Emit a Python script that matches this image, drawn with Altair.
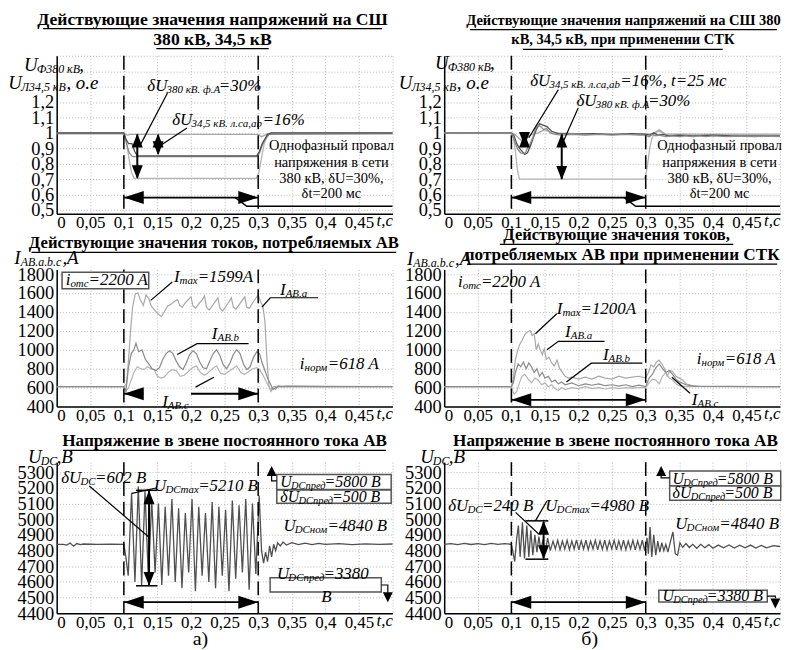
import altair as alt
import pandas as pd

FONT = "Liberation Serif"
W = 338
HEIGHTS = [159, 138, 152]
XDOM = [0, 0.5]
YDOMS = [[0.475, 1.5], [400, 1850], [4400, 5365]]
XTICKS = [0, 0.05, 0.1, 0.15, 0.2, 0.25, 0.3, 0.35, 0.4, 0.45, 0.5]
YTICKS = [[0.5, 0.6, 0.7, 0.8, 0.9, 1.0, 1.1, 1.2, 1.3, 1.4, 1.5],
          [400, 600, 800, 1000, 1200, 1400, 1600, 1800],
          [4400, 4500, 4600, 4700, 4800, 4900, 5000, 5100, 5200, 5300]]
FAULT = [0.1, 0.3]

# ---------------- series (t, value) ----------------
P1_UA380 = [(0, 1.0), (0.1, 1.0), (0.103, 0.96), (0.107, 0.85), (0.111, 0.75), (0.115, 0.705), (0.297, 0.705),
            (0.301, 0.74), (0.305, 0.84), (0.309, 0.93), (0.313, 0.98), (0.318, 1.0), (0.5, 1.0)]
P1_UCA = [(0, 1.0), (0.1, 1.0), (0.103, 0.96), (0.107, 0.93), (0.112, 0.93), (0.116, 0.88), (0.12, 0.85),
          (0.298, 0.85), (0.302, 0.88), (0.306, 0.93), (0.31, 0.96), (0.314, 0.99), (0.32, 1.0), (0.5, 1.0)]
P1_UAB = [(0, 0.995), (0.1, 0.995), (0.104, 0.93), (0.108, 0.87), (0.113, 0.845), (0.118, 0.845), (0.298, 0.845),
          (0.302, 0.87), (0.306, 0.92), (0.31, 0.955), (0.316, 0.99), (0.5, 0.995)]
P1_UBC = [(0, 0.995), (0.1, 0.995), (0.105, 0.985), (0.11, 0.99), (0.3, 0.99), (0.305, 0.975), (0.31, 0.985),
          (0.315, 0.995), (0.5, 0.995)]

P2_UA380 = [(0, 1.0), (0.1, 1.0), (0.103, 0.97), (0.106, 0.88), (0.109, 0.76), (0.112, 0.70), (0.297, 0.70),
            (0.3, 0.72), (0.303, 0.8), (0.306, 0.9), (0.309, 0.96), (0.313, 1.0), (0.32, 1.01), (0.33, 0.99),
            (0.5, 0.99)]
P2_UAB = [(0, 1.0), (0.1, 1.0), (0.103, 0.97), (0.106, 0.93), (0.11, 0.89), (0.114, 0.87), (0.118, 0.865),
          (0.121, 0.87), (0.124, 0.9), (0.128, 0.93), (0.132, 0.97), (0.136, 1.03), (0.14, 1.05), (0.144, 1.04),
          (0.148, 1.02), (0.152, 1.03), (0.158, 1.0), (0.165, 0.99), (0.175, 0.985), (0.19, 0.99), (0.21, 0.985),
          (0.23, 0.99), (0.25, 0.985), (0.27, 0.99), (0.29, 0.985), (0.3, 0.985), (0.305, 0.975), (0.31, 0.99),
          (0.315, 0.98), (0.32, 0.985), (0.33, 0.975), (0.34, 0.98), (0.35, 0.975), (0.36, 0.98), (0.37, 0.975),
          (0.38, 0.98), (0.39, 0.975), (0.4, 0.98), (0.42, 0.975), (0.44, 0.978), (0.46, 0.975), (0.48, 0.978),
          (0.5, 0.975)]
P2_UCA = [(0, 1.0), (0.1, 1.0), (0.104, 0.98), (0.108, 0.93), (0.112, 0.9), (0.116, 0.88), (0.12, 0.86),
          (0.124, 0.87), (0.128, 0.91), (0.132, 0.96), (0.137, 1.02), (0.142, 1.06), (0.147, 1.05), (0.153, 1.04),
          (0.16, 1.01), (0.17, 0.995), (0.19, 0.99), (0.22, 0.995), (0.25, 0.99), (0.28, 0.995), (0.3, 0.99),
          (0.306, 0.985), (0.312, 1.0), (0.318, 0.985), (0.325, 0.99), (0.335, 0.98), (0.35, 0.985), (0.37, 0.98),
          (0.4, 0.985), (0.43, 0.98), (0.46, 0.98), (0.5, 0.98)]
P2_UBC = [(0, 1.0), (0.1, 1.0), (0.105, 0.99), (0.11, 0.97), (0.115, 0.95), (0.12, 0.96), (0.13, 0.99),
          (0.14, 1.0), (0.15, 1.02), (0.16, 1.0), (0.2, 0.995), (0.25, 0.99), (0.3, 0.995), (0.31, 0.99),
          (0.32, 1.02), (0.33, 0.99), (0.35, 0.99), (0.4, 0.99), (0.45, 0.99), (0.5, 0.99)]

P3_IA = [(0, 610), (0.1, 610), (0.104, 640), (0.107, 900), (0.11, 1200), (0.113, 1450), (0.117, 1590),
         (0.121, 1600), (0.125, 1520), (0.129, 1470), (0.133, 1580), (0.137, 1540), (0.141, 1460), (0.146, 1420),
         (0.151, 1380), (0.156, 1350), (0.16, 1400), (0.165, 1460), (0.17, 1480), (0.175, 1510), (0.18, 1530),
         (0.183, 1470), (0.187, 1450), (0.192, 1500), (0.197, 1540), (0.2, 1560), (0.203, 1460), (0.207, 1440),
         (0.212, 1490), (0.217, 1530), (0.22, 1570), (0.223, 1450), (0.227, 1420), (0.232, 1470), (0.237, 1520),
         (0.24, 1550), (0.243, 1440), (0.247, 1410), (0.252, 1460), (0.257, 1510), (0.26, 1550), (0.263, 1450),
         (0.267, 1430), (0.272, 1480), (0.277, 1530), (0.28, 1560), (0.283, 1450), (0.287, 1440), (0.292, 1500),
         (0.297, 1550), (0.3, 1580), (0.304, 1500), (0.307, 1460), (0.31, 1300), (0.313, 900), (0.316, 620),
         (0.319, 560), (0.322, 600), (0.326, 580), (0.33, 620), (0.335, 610), (0.345, 615), (0.4, 610), (0.5, 610)]
P3_IB = [(0, 610), (0.1, 610), (0.103, 560), (0.107, 820), (0.111, 960), (0.115, 1000), (0.118, 1070),
         (0.122, 980), (0.127, 1000), (0.132, 900), (0.137, 850), (0.142, 800), (0.148, 780), (0.153, 810),
         (0.158, 900), (0.163, 960), (0.168, 990), (0.173, 960), (0.178, 880), (0.183, 820), (0.188, 790),
         (0.193, 860), (0.198, 950), (0.203, 990), (0.208, 960), (0.213, 870), (0.218, 810), (0.223, 800),
         (0.228, 880), (0.233, 960), (0.238, 1000), (0.243, 940), (0.248, 840), (0.253, 800), (0.258, 860),
         (0.263, 950), (0.268, 1000), (0.273, 960), (0.278, 850), (0.283, 790), (0.288, 820), (0.293, 920),
         (0.298, 980), (0.302, 960), (0.306, 860), (0.31, 780), (0.314, 700), (0.318, 640), (0.322, 580),
         (0.326, 600), (0.33, 610), (0.34, 612), (0.5, 610)]
P3_IC = [(0, 610), (0.1, 610), (0.103, 560), (0.107, 600), (0.111, 680), (0.115, 760), (0.12, 820), (0.125, 800),
         (0.13, 790), (0.135, 820), (0.14, 800), (0.145, 790), (0.15, 720), (0.155, 700), (0.16, 710), (0.166, 760),
         (0.172, 790), (0.178, 780), (0.184, 720), (0.19, 730), (0.196, 770), (0.202, 810), (0.208, 830),
         (0.214, 760), (0.22, 730), (0.226, 760), (0.232, 800), (0.238, 830), (0.244, 750), (0.25, 740),
         (0.256, 770), (0.262, 800), (0.268, 830), (0.274, 760), (0.28, 740), (0.286, 770), (0.292, 800),
         (0.298, 810), (0.303, 780), (0.308, 720), (0.313, 650), (0.318, 580), (0.323, 610), (0.33, 612), (0.5, 610)]

P4_IA = [(0, 610), (0.1, 610), (0.103, 700), (0.106, 900), (0.109, 980), (0.112, 1050), (0.116, 1100),
         (0.12, 1160), (0.124, 1190), (0.128, 1200), (0.131, 1150), (0.134, 1170), (0.137, 1000), (0.14, 1060),
         (0.143, 1000), (0.146, 950), (0.149, 1010), (0.152, 900), (0.156, 920), (0.16, 860), (0.164, 830),
         (0.168, 890), (0.172, 800), (0.176, 760), (0.18, 720), (0.185, 700), (0.19, 710), (0.2, 690), (0.21, 710),
         (0.22, 690), (0.23, 720), (0.24, 700), (0.25, 690), (0.26, 720), (0.27, 700), (0.28, 710), (0.29, 720),
         (0.3, 700), (0.304, 760), (0.308, 840), (0.312, 820), (0.316, 870), (0.32, 890), (0.324, 850),
         (0.328, 800), (0.332, 720), (0.336, 780), (0.34, 770), (0.345, 720), (0.35, 700), (0.355, 680),
         (0.36, 640), (0.37, 620), (0.38, 612), (0.5, 610)]
P4_IB = [(0, 610), (0.1, 610), (0.103, 650), (0.106, 760), (0.11, 850), (0.114, 820), (0.118, 870), (0.122, 800),
         (0.126, 860), (0.13, 820), (0.134, 760), (0.138, 800), (0.142, 720), (0.146, 760), (0.15, 700),
         (0.155, 720), (0.16, 660), (0.165, 680), (0.17, 640), (0.175, 660), (0.18, 630), (0.19, 650), (0.2, 620),
         (0.21, 640), (0.22, 625), (0.23, 640), (0.24, 620), (0.25, 630), (0.26, 615), (0.27, 630), (0.28, 610),
         (0.29, 625), (0.3, 610), (0.305, 700), (0.31, 740), (0.315, 810), (0.32, 850), (0.325, 800), (0.33, 760),
         (0.335, 780), (0.34, 740), (0.345, 690), (0.35, 660), (0.36, 630), (0.37, 615), (0.5, 610)]
P4_IC = [(0, 610), (0.1, 610), (0.104, 530), (0.108, 560), (0.112, 650), (0.116, 720), (0.12, 740), (0.125, 690),
         (0.13, 650), (0.135, 700), (0.14, 680), (0.145, 630), (0.15, 650), (0.155, 610), (0.16, 630), (0.165, 590),
         (0.17, 570), (0.175, 600), (0.18, 580), (0.19, 600), (0.2, 590), (0.21, 610), (0.22, 590), (0.23, 600),
         (0.24, 585), (0.25, 600), (0.26, 590), (0.27, 600), (0.28, 595), (0.29, 600), (0.3, 600), (0.305, 650),
         (0.31, 690), (0.315, 680), (0.32, 640), (0.325, 720), (0.33, 760), (0.335, 700), (0.34, 680),
         (0.345, 640), (0.35, 620), (0.36, 610), (0.5, 610)]

P5_UDC = [(0, 4840), (0.01, 4840), (0.015, 4835), (0.02, 4848), (0.025, 4828), (0.03, 4845), (0.035, 4838),
          (0.04, 4842), (0.06, 4840), (0.08, 4841), (0.1, 4840), (0.103, 4760), (0.1065, 4640), (0.1115, 5170),
          (0.1165, 4600), (0.1215, 5210), (0.1265, 4580), (0.1315, 5180), (0.1365, 4620), (0.1415, 5120),
          (0.1465, 4660), (0.1515, 5100), (0.1565, 4580), (0.1615, 5080), (0.1665, 4640), (0.1715, 5130),
          (0.1765, 4600), (0.1815, 5070), (0.1865, 4560), (0.1915, 5040), (0.1965, 4660), (0.2015, 5130),
          (0.2065, 4540), (0.2115, 5080), (0.2165, 4640), (0.2215, 5040), (0.2265, 4600), (0.2315, 5110),
          (0.2365, 4560), (0.2415, 5080), (0.2465, 4640), (0.2515, 5060), (0.2565, 4540), (0.2615, 5120),
          (0.2665, 4620), (0.2715, 5090), (0.2765, 4660), (0.2815, 5130), (0.2865, 4550), (0.2915, 5100),
          (0.2965, 4650), (0.3015, 5150), (0.305, 4800), (0.308, 4720), (0.311, 4790), (0.314, 4730),
          (0.317, 4830), (0.32, 4760), (0.323, 4840), (0.326, 4800), (0.329, 4850), (0.333, 4830), (0.337, 4855),
          (0.342, 4835), (0.35, 4850), (0.36, 4838), (0.37, 4848), (0.38, 4838), (0.39, 4846), (0.4, 4840),
          (0.42, 4845), (0.44, 4838), (0.46, 4843), (0.48, 4840), (0.5, 4842)]

P6_UDC = [(0, 4840), (0.01, 4845), (0.02, 4838), (0.03, 4846), (0.04, 4839), (0.05, 4845), (0.06, 4838),
          (0.07, 4846), (0.08, 4839), (0.09, 4844), (0.1, 4840), (0.102, 4800), (0.105, 4730), (0.108, 4880),
          (0.1105, 4960), (0.113, 4760), (0.1165, 4980), (0.1195, 4750), (0.123, 4960), (0.126, 4760),
          (0.129, 4930), (0.132, 4770), (0.135, 4900), (0.138, 4790), (0.141, 4890), (0.144, 4800), (0.147, 4870),
          (0.15, 4780), (0.154, 4880), (0.158, 4800), (0.162, 4860), (0.1655, 4810), (0.169, 4865), (0.1725, 4805),
          (0.176, 4860), (0.1795, 4810), (0.183, 4865), (0.1865, 4805), (0.19, 4860), (0.1935, 4810),
          (0.197, 4868), (0.2005, 4805), (0.204, 4862), (0.2075, 4810), (0.211, 4866), (0.2145, 4805),
          (0.218, 4860), (0.2215, 4810), (0.225, 4865), (0.2285, 4805), (0.232, 4862), (0.2355, 4808),
          (0.239, 4866), (0.2425, 4805), (0.246, 4860), (0.2495, 4810), (0.253, 4865), (0.2565, 4805),
          (0.26, 4862), (0.2635, 4808), (0.267, 4866), (0.2705, 4805), (0.274, 4860), (0.2775, 4810),
          (0.281, 4865), (0.2845, 4805), (0.288, 4862), (0.2915, 4808), (0.295, 4866), (0.2985, 4800),
          (0.302, 4880), (0.304, 4780), (0.3065, 4950), (0.309, 4760), (0.312, 4900), (0.315, 4770), (0.318, 4860),
          (0.321, 4790), (0.324, 4850), (0.327, 4800), (0.33, 4840), (0.333, 4790), (0.337, 4860), (0.3405, 4920),
          (0.344, 4780), (0.3475, 4770), (0.351, 4850), (0.355, 4820), (0.36, 4845), (0.365, 4820), (0.37, 4840),
          (0.376, 4815), (0.382, 4840), (0.388, 4818), (0.394, 4838), (0.4, 4815), (0.408, 4835), (0.416, 4818),
          (0.424, 4836), (0.432, 4816), (0.44, 4834), (0.448, 4818), (0.456, 4835), (0.464, 4816), (0.472, 4833),
          (0.48, 4818), (0.49, 4832), (0.5, 4826)]

CALLOUT = ["Однофазный провал", "напряжения в сети", "380 кВ, δU=30%,", "δt=200 мс"]

HEADS = {
    "up": "M0,0L-5.5,14L5.5,14Z",
    "down": "M0,0L-5.5,-14L5.5,-14Z",
    "left": "M0,0L20,-6.5L20,6.5Z",
    "right": "M0,0L-20,-6.5L-20,6.5Z",
    "sup": "M0,0L-5,10L5,10Z",
    "sdown": "M0,0L-5,-10L5,-10Z",
}

PPX = W / (XDOM[1] - XDOM[0])


def char_w(c):
    if c.isdigit():
        return 0.5
    if c in " .,":
        return 0.25
    if c in "il":
        return 0.28
    if c == "=":
        return 0.675
    if c == "%":
        return 0.833
    if c == "I":
        return 0.333
    if c in "mмтшщю":
        return 0.72
    if c.isupper():
        return 0.67
    return 0.47


def text_w(s, size):
    return sum(char_w(c) for c in s) * size


PANELS = [
    dict(row=0,
         series=[("UBC", P1_UBC, "#a8a8a8"), ("UA", P1_UA380, "#b4b4b4"), ("UAB", P1_UAB, "#8a8a8a"),
                 ("UCA", P1_UCA, "#505050")],
         titles=[("Действующие значения напряжений на СШ", 0.232, 1.734, 17.7, 341),
                 ("380 кВ, 34,5 кВ", 0.232, 1.605, 17.7, 113)],
         rich=[(-0.0486, 1.441, [("U", "m"), ("Ф380 кВ", "s"), (",", "m")], 19, 12),
               (-0.072, 1.323, [("U", "m"), ("Л34,5 кВ", "s"), (", о.е", "m")], 19, 12),
               (0.135, 1.301, [("δU", "m"), ("380 кВ. ф.A", "s"), ("=30%", "m")], 17, 11),
               (0.172, 1.086, [("δU", "m"), ("34,5 кВ. л.ca,ab", "s"), ("=16%", "m")], 17, 11)],
         plain=[(CALLOUT[0], 0.409, 0.914, 14.5), (CALLOUT[1], 0.409, 0.806, 14.5),
                (CALLOUT[2], 0.409, 0.699, 14.5), (CALLOUT[3], 0.409, 0.603, 14.5)],
         lines=[([(0.165, 1.258), (0.125, 0.925)], 1.2), ([(0.194, 1.032), (0.155, 0.92)], 1.2),
                ([(0.12, 0.99), (0.12, 0.71)], 2), ([(0.151, 0.985), (0.151, 0.865)], 2),
                ([(0.1, 0.58), (0.3, 0.58)], 1.8), ([(0.266, 0.58), (0.283, 0.523), (0.5, 0.523)], 1.5)],
         heads=[(0.12, 0.995, "up"), (0.12, 0.70, "down"), (0.151, 0.995, "up"), (0.151, 0.855, "down"),
                (0.1, 0.58, "left"), (0.3, 0.58, "right")],
         boxes=[], sw=1.3),
    dict(row=0,
         series=[("UBC", P2_UBC, "#a8a8a8"), ("UA", P2_UA380, "#b4b4b4"), ("UCA", P2_UCA, "#8a8a8a"),
                 ("UAB", P2_UAB, "#505050")],
         titles=[("Действующие значения напряжений на СШ 380", 0.267, 1.728, 14.6, 309),
                 ("кВ, 34,5 кВ, при применении СТК", 0.266, 1.6, 14.6, 201)],
         rich=[(-0.0137, 1.452, [("U", "m"), ("Ф380 кВ", "s"), (",", "m")], 19, 12),
               (-0.0676, 1.323, [("U", "m"), ("Л34,5 кВ", "s"), (", о.е", "m")], 19, 12),
               (0.128, 1.334, [("δU", "m"), ("34,5 кВ. л.ca,ab", "s"), ("=16%, t=25 мс", "m")], 17, 11),
               (0.197, 1.205, [("δU", "m"), ("380 кВ. ф.A", "s"), ("=30%", "m")], 17, 11)],
         plain=[(CALLOUT[0], 0.41, 0.914, 14.5), (CALLOUT[1], 0.41, 0.806, 14.5),
                (CALLOUT[2], 0.41, 0.699, 14.5), (CALLOUT[3], 0.41, 0.603, 14.5)],
         lines=[([(0.170, 1.28), (0.126, 0.968)], 1.2), ([(0.1995, 1.161), (0.1775, 0.946)], 1.2),
                ([(0.1196, 0.99), (0.1196, 0.925)], 2), ([(0.175, 0.99), (0.175, 0.70)], 2),
                ([(0.1, 0.58), (0.3, 0.58)], 1.8), ([(0.268, 0.58), (0.285, 0.523), (0.5, 0.523)], 1.5)],
         heads=[(0.1196, 0.995, "up"), (0.1196, 0.915, "down"), (0.175, 0.995, "up"), (0.175, 0.695, "down"),
                (0.1, 0.58, "left"), (0.3, 0.58, "right")],
         boxes=[], sw=1.3),
    dict(row=1,
         series=[("IA", P3_IA, "#a6a6a6"), ("IC", P3_IC, "#7a7a7a"), ("IB", P3_IB, "#4d4d4d")],
         titles=[("Действующие значения токов, потребляемых АВ", 0.234, 2125, 16.8, 367)],
         rich=[(-0.063, 1975, [("I", "m"), ("AB.a.b.c", "s"), (",A", "m")], 19, 12),
               (0.0134, 1735, [("i", "m"), ("отс", "s"), ("=2200 A", "m")], 17, 11),
               (0.1745, 1769, [("I", "m"), ("max", "s"), ("=1599A", "m")], 17, 11),
               (0.3326, 1628, [("I", "m"), ("AB.a", "s")], 17, 11),
               (0.231, 1170, [("I", "m"), ("AB.b", "s")], 17, 11),
               (0.157, 446, [("I", "m"), ("AB.c", "s")], 17, 11),
               (0.362, 852, [("i", "m"), ("норм", "s"), ("=618 A", "m")], 17, 11)],
         plain=[],
         lines=[([(0.172, 1716), (0.140, 1522)], 1.2),
                ([(0.389, 1550), (0.318, 1550), (0.3055, 1451)], 1.2),
                ([(0.2857, 1064), (0.209, 1064), (0.1795, 950)], 1.2),
                ([(0.2067, 605), (0.234, 710)], 1.2),
                ([(0.1, 535), (0.129, 535)], 1.8), ([(0.2, 535), (0.3, 535)], 1.8)],
         heads=[(0.1, 535, "left"), (0.3, 535, "right")],
         boxes=[(0.008, 1646, 0.137, 1821)], sw=1.2),
    dict(row=1,
         series=[("IA", P4_IA, "#a6a6a6"), ("IC", P4_IC, "#7a7a7a"), ("IB", P4_IB, "#4d4d4d")],
         titles=[("Действующие значения токов,", 0.2566, 2210, 16.6, 235),
                 ("потребляемых АВ при применении СТК", 0.265, 2000, 17.3, 312)],
         rich=[(-0.0554, 1960, [("I", "m"), ("AB.a.b.c", "s"), (",A", "m")], 19, 12),
               (0.0206, 1716, [("i", "m"), ("отс", "s"), ("=2200 A", "m")], 17, 11),
               (0.1676, 1434, [("I", "m"), ("max", "s"), ("=1200A", "m")], 17, 11),
               (0.18, 1187, [("I", "m"), ("AB.a", "s")], 17, 11),
               (0.2363, 940, [("I", "m"), ("AB.b", "s")], 17, 11),
               (0.3687, 464, [("I", "m"), ("AB.c", "s")], 17, 11),
               (0.376, 905, [("i", "m"), ("норм", "s"), ("=618 A", "m")], 17, 11)],
         plain=[],
         lines=[([(0.1676, 1381), (0.1358, 1170)], 1.2),
                ([(0.2387, 1089), (0.170, 1089), (0.153, 1000)], 1.2),
                ([(0.295, 858), (0.219, 858), (0.182, 660)], 1.2),
                ([(0.366, 540), (0.339, 710)], 1.2),
                ([(0.1, 471), (0.3, 471)], 1.8)],
         heads=[(0.1, 471, "left"), (0.3, 471, "right")],
         boxes=[], sw=1.2),
    dict(row=2,
         series=[("UDC", P5_UDC, "#303030")],
         titles=[("Напряжение в звене постоянного тока АВ", 0.25, 5498, 17.3, 325)],
         rich=[(-0.0427, 5400, [("U", "m"), ("DC", "s"), (",B", "m")], 19, 12),
               (0.0067, 5266, [("δU", "m"), ("DC", "s"), ("=602 B", "m")], 17, 11),
               (0.145, 5213, [("U", "m"), ("DCmax", "s"), ("=5210 B", "m")], 17, 11),
               (0.333, 5238, [("U", "m"), ("DCпред", "s"), ("=5800 B", "m")], 16, 10.5),
               (0.333, 5145, [("δU", "m"), ("DCпред", "s"), ("=500 B", "m")], 16, 10.5),
               (0.3375, 4959, [("U", "m"), ("DCном", "s"), ("=4840 B", "m")], 17, 11),
               (0.328, 4648, [("U", "m"), ("DCпред", "s"), ("=3380", "m")], 17, 11),
               (0.394, 4504, [("B", "m")], 17, 11)],
         plain=[("а)", 0.214, 4233, 20)],
         lines=[([(0.0486, 5213), (0.1375, 4885)], 1.2),
                ([(0.112, 5165), (0.148, 5200)], 1.2),
                ([(0.118, 5185), (0.15, 5185)], 1.5),
                ([(0.118, 4575), (0.15, 4575)], 1.5),
                ([(0.1375, 5180), (0.1375, 4580)], 2),
                ([(0.1, 4470), (0.3, 4470)], 1.8),
                ([(0.32, 5310), (0.32, 5245), (0.3277, 5245)], 1.2),
                ([(0.4833, 4580), (0.493, 4580), (0.493, 4530)], 1.2)],
         heads=[(0.1375, 5185, "up"), (0.1375, 4575, "down"), (0.1, 4470, "left"), (0.3, 4470, "right"),
                (0.32, 5340, "sup"), (0.493, 4470, "sdown")],
         boxes=[(0.3277, 5191, 0.498, 5286), (0.3277, 5103, 0.498, 5187), (0.3178, 4536, 0.4833, 4627)],
         sw=1.3),
    dict(row=2,
         series=[("UDC", P6_UDC, "#303030")],
         titles=[("Напряжение в звене постоянного тока АВ", 0.255, 5498, 17.3, 325)],
         rich=[(-0.0357, 5400, [("U", "m"), ("DC", "s"), (",B", "m")], 19, 12),
               (0.0059, 5086, [("δU", "m"), ("DC", "s"), ("=240 B", "m")], 17, 11),
               (0.1505, 5086, [("U", "m"), ("DCmax", "s"), ("=4980 B", "m")], 17, 11),
               (0.34, 5260, [("U", "m"), ("DCпред", "s"), ("=5800 B", "m")], 16, 10.5),
               (0.34, 5167, [("δU", "m"), ("DCпред", "s"), ("=500 B", "m")], 16, 10.5),
               (0.344, 4969, [("U", "m"), ("DCном", "s"), ("=4840 B", "m")], 17, 11),
               (0.325, 4509, [("U", "m"), ("DCпред", "s"), ("=3380 B", "m")], 16, 10.5)],
         plain=[("б)", 0.2166, 4233, 20)],
         lines=[([(0.1063, 5044), (0.1407, 4906)], 1.2),
                ([(0.153, 5117), (0.1358, 4990)], 1.2),
                ([(0.121, 4990), (0.155, 4990)], 1.5),
                ([(0.121, 4745), (0.155, 4745)], 1.5),
                ([(0.148, 4985), (0.148, 4750)], 2),
                ([(0.1, 4470), (0.3, 4470)], 1.8),
                ([(0.323, 5310), (0.323, 5265), (0.3357, 5265)], 1.2),
                ([(0.481, 4509), (0.493, 4509), (0.493, 4495)], 1.2)],
         heads=[(0.148, 4990, "up"), (0.148, 4745, "down"), (0.1, 4470, "left"), (0.3, 4470, "right"),
                (0.323, 5340, "sup"), (0.493, 4430, "sdown")],
         boxes=[(0.3357, 5213, 0.501, 5308), (0.3357, 5122, 0.501, 5213), (0.3196, 4472, 0.481, 4546)],
         sw=1.3),
]


def build_panel(p):
    row = p["row"]
    h = HEIGHTS[row]
    ydom = YDOMS[row]
    ppy = h / (ydom[1] - ydom[0])
    xs = alt.Scale(domain=XDOM, nice=False, zero=False)
    ys = alt.Scale(domain=ydom, nice=False, zero=False)

    if row == 0:
        ylab = "datum.value > 1.25 ? '' : replace(toString(datum.value), '.', ',')"
    else:
        ylab = "toString(datum.value)"
    xaxis = alt.Axis(values=XTICKS,
                     labelExpr="datum.value > 0.49 ? '' : replace(toString(datum.value), '.', ',')",
                     labelFont=FONT, labelFontSize=17, labelColor="black", labelPadding=1,
                     title="t,c", titleX=W, titleY=-1, titleAlign="right", titleBaseline="top",
                     titleFont=FONT, titleFontStyle="italic", titleFontWeight="normal", titleFontSize=17,
                     titleColor="black", grid=True)
    yaxis = alt.Axis(values=YTICKS[row], labelExpr=ylab, title="", grid=True,
                     labelFont=FONT, labelFontSize=18.5, labelColor="black", labelPadding=3)

    def X(f):
        return alt.X(f + ":Q", scale=xs, axis=xaxis)

    def Y(f):
        return alt.Y(f + ":Q", scale=ys, axis=yaxis)

    layers = []
    recs, names, cols = [], [], []
    for name, pts, col in p["series"]:
        names.append(name)
        cols.append(col)
        for t, v in pts:
            recs.append({"x": t, "y": v, "s": name})
    layers.append(alt.Chart(pd.DataFrame(recs)).mark_line(strokeWidth=p["sw"]).encode(
        x=X("x"), y=Y("y"),
        color=alt.Color("s:N", scale=alt.Scale(domain=names, range=cols), legend=None),
        detail="s:N"))

    layers.append(alt.Chart(pd.DataFrame({"x": FAULT})).mark_rule(
        color="black", strokeWidth=1.5, strokeDash=[14, 6]).encode(x=X("x")))

    if p["boxes"]:
        bdf = pd.DataFrame(p["boxes"], columns=["x", "y", "x2", "y2"])
        layers.append(alt.Chart(bdf).mark_rect(fill="white", stroke="#555555", strokeWidth=1.5).encode(
            x=X("x"), x2="x2:Q", y=Y("y"), y2="y2:Q"))

    lrecs = []
    g = 0
    for pts, w in p["lines"]:
        for o, (x, y) in enumerate(pts):
            lrecs.append({"x": x, "y": y, "g": g, "o": o, "w": w})
        g += 1
    for text, cx, cy, size, wpx in p["titles"]:
        uy = cy - 9 / ppy
        for o, x in enumerate([cx - wpx / 2 / PPX, cx + wpx / 2 / PPX]):
            lrecs.append({"x": x, "y": uy, "g": g, "o": o, "w": 1.3})
        g += 1
    layers.append(alt.Chart(pd.DataFrame(lrecs)).mark_line(color="black").encode(
        x=X("x"), y=Y("y"), detail="g:N", order="o:Q",
        strokeWidth=alt.StrokeWidth("w:Q", scale=None)))

    hdf = pd.DataFrame(p["heads"], columns=["x", "y", "d"])
    hdf["p"] = hdf["d"].map(HEADS)
    layers.append(alt.Chart(hdf).mark_point(filled=True, color="black", opacity=1, strokeWidth=0).encode(
        x=X("x"), y=Y("y"), shape=alt.Shape("p:N", scale=None), size=alt.value(4)))

    groups = {}
    for x0, y0, parts, big, small in p["rich"]:
        off = 0.0
        for txt, kind in parts:
            size = big if kind == "m" else small
            groups.setdefault((kind, size), []).append({"x": x0 + off / PPX, "y": y0, "text": txt})
            off += text_w(txt, size)
    for (kind, size), rows in groups.items():
        layers.append(alt.Chart(pd.DataFrame(rows)).mark_text(
            font=FONT, fontSize=size, fontStyle="italic", align="left", baseline="middle",
            dy=4 if kind == "s" else 0, color="black").encode(x=X("x"), y=Y("y"), text="text:N"))

    for text, cx, cy, size, wpx in p["titles"]:
        layers.append(alt.Chart(pd.DataFrame([{"x": cx, "y": cy, "text": text}])).mark_text(
            font=FONT, fontSize=size, fontWeight="bold", align="center", baseline="middle",
            color="black").encode(x=X("x"), y=Y("y"), text="text:N"))

    for text, cx, cy, size in p["plain"]:
        layers.append(alt.Chart(pd.DataFrame([{"x": cx, "y": cy, "text": text}])).mark_text(
            font=FONT, fontSize=size, align="center", baseline="middle",
            color="black").encode(x=X("x"), y=Y("y"), text="text:N"))

    return alt.layer(*layers).properties(width=W, height=h)


panels = [build_panel(p) for p in PANELS]

chart = alt.concat(*panels, columns=2, bounds="flush", spacing={"row": 56, "column": 52}).properties(
    padding={"left": 0, "top": 0, "right": 2, "bottom": 0}, background="white"
).configure_view(stroke=None).configure_axis(
    labelFont=FONT, labelColor="black", domainColor="black", domainWidth=1.5,
    gridColor="#a8a8a8", gridDash=[1, 2], gridWidth=0.8, ticks=False, labelOverlap=False
)

chart.save("out.html", embed_options={"renderer": "svg", "actions": False})
